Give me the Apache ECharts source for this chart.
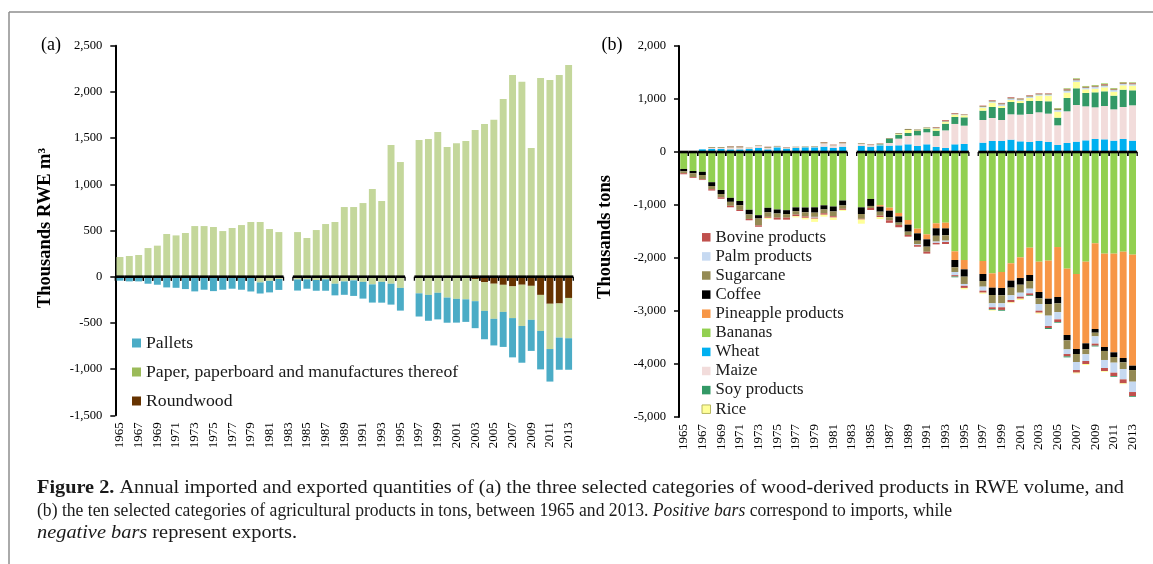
<!DOCTYPE html>
<html>
<head>
<meta charset="utf-8">
<script src="https://cdn.jsdelivr.net/npm/echarts@6/dist/echarts.min.js"></script>
<style>
  html, body { margin: 0; padding: 0; background: #fff; }
  #chart { width: 1153px; height: 564px; }
</style>
</head>
<body>
<div id="chart"></div>
<script>
// Years on both category axes (1983 and 1996 have no data)
const years = ['1965','1966','1967','1968','1969','1970','1971','1972','1973','1974','1975','1976','1977','1978','1979','1980','1981','1982','1983','1984','1985','1986','1987','1988','1989','1990','1991','1992','1993','1994','1995','1996','1997','1998','1999','2000','2001','2002','2003','2004','2005','2006','2007','2008','2009','2010','2011','2012','2013'];

// ---- (a) wood-derived products, thousands RWE m3 (imports > 0, exports < 0)
const paperImp = [213,224,235,310,336,462,447,473,548,548,538,494,527,559,592,592,516,483, null, 483,419,505,570,592,754,754,797,949,819,1425,1241, null, 1479,1490,1566,1404,1443,1468,1588,1652,1699,1923,2183,2111,1393,2150,2129,2183,2291];
const roundwoodExp = [0,0,0,0,0,0,0,0,0,0,0,0,0,0,0,0,0,0, null, 0,0,0,0,0,0,0,0,0,0,0,0, null, 0,0,0,0,0,-5,-25,-60,-76,-88,-105,-87,-99,-197,-293,-290,-230];
const paperExp = [0,0,0,0,0,0,0,0,0,0,0,0,0,0,-8,-62,-45,-25, null, -30,-29,-36,-29,-76,-51,-40,-56,-83,-56,-76,-121, null, -180,-197,-174,-226,-240,-240,-240,-310,-380,-293,-343,-446,-368,-390,-490,-369,-436];
const palletsExp = [-43,-51,-51,-76,-87,-116,-120,-134,-159,-141,-156,-141,-130,-141,-152,-120,-125,-118, null, -120,-101,-116,-123,-126,-145,-168,-181,-197,-225,-226,-246, null, -251,-280,-288,-272,-257,-244,-292,-307,-288,-379,-425,-398,-336,-416,-352,-348,-341];

// ---- (b) agricultural products, thousands tons: imports
const wheatImp = [0,0,50,57,57,50,50,57,75,50,88,63,75,88,88,100,75,100, null, 113,100,126,120,126,145,113,145,94,75,145,151, null, 176,208,208,233,201,189,208,189,132,170,195,220,245,239,214,245,214];
const maizeImp = [0,0,0,20,20,35,35,15,40,30,15,10,15,5,15,63,50,63, null, 38,30,15,50,126,157,201,226,207,333,384,346, null, 428,434,396,478,503,528,541,535,371,598,692,642,598,629,591,604,667];
const soyImp = [0,0,0,0,0,0,0,0,0,0,0,0,0,0,0,0,0,0, null, 0,0,10,82,75,57,82,69,101,126,132,157, null, 176,208,226,233,220,245,214,233,145,252,315,252,283,277,258,327,283];
const riceImp = [0,0,0,0,0,0,0,0,0,0,0,0,0,0,0,0,0,0, null, 0,0,0,0,15,57,10,10,38,31,44,38, null, 57,82,38,38,44,57,101,107,113,101,120,69,69,75,75,82,88];
const palmImp = [0,0,0,0,0,0,0,0,0,0,0,0,0,0,0,0,0,0, null, 0,0,0,0,0,0,0,0,8,10,8,5, null, 15,20,30,25,20,25,20,20,30,35,30,25,30,30,30,25,25];
const sugarImp = [0,0,0,15,15,20,20,10,10,15,12,10,10,10,10,20,10,20, null, 13,10,8,12,15,19,19,13,15,15,13,10, null, 15,15,20,15,20,17,15,15,20,25,20,15,15,20,15,15,15];
const bovineImp = [0,0,0,0,0,5,5,0,0,5,0,5,0,0,0,5,5,5, null, 0,5,4,0,0,0,0,0,8,13,10,4, null, 8,10,8,12,5,10,8,8,9,12,9,11,12,12,12,13,13];
const bananaImp = [0,0,0,0,0,0,0,0,0,0,0,0,0,0,0,0,0,0, null, 0,0,0,0,0,0,0,0,0,0,0,0, null, 0,0,0,0,0,0,0,0,10,10,10,12,12,13,12,10,10];

// ---- (b) agricultural products, thousands tons: exports
const bananaExp = [-320,-358,-374,-570,-717,-865,-925,-1090,-1192,-1053,-1085,-1098,-1045,-1047,-1044,-1006,-1028,-915, null, -1044,-886,-1003,-1050,-1150,-1283,-1447,-1554,-1346,-1334,-1874,-2038, null, -2057,-2290,-2264,-2100,-1988,-1805,-2069,-2050,-1793,-2201,-2302,-2069,-1723,-1918,-1918,-1881,-1937];
const pineExp = [0,0,0,0,0,0,0,0,0,0,0,0,0,0,0,0,0,0, null, 0,0,-28,-57,-66,-88,-88,-94,-94,-107,-164,-176, null, -245,-270,-302,-327,-390,-516,-572,-717,-943,-1252,-1415,-1541,-1617,-1761,-1862,-2006,-2095];
const coffeeExp = [-45,-44,-60,-72,-75,-75,-78,-88,-63,-85,-75,-75,-72,-90,-100,-78,-94,-94, null, -126,-132,-95,-122,-116,-132,-138,-138,-140,-132,-138,-138, null, -132,-138,-138,-132,-126,-113,-120,-101,-120,-101,-94,-113,-69,-75,-88,-82,-82];
const sugarExp = [-35,-70,-82,-60,-65,-75,-90,-85,-130,-85,-80,-66,-65,-80,-80,-72,-90,-63, null, -90,-38,-75,-60,-44,-63,-69,-96,-110,-100,-88,-138, null, -107,-157,-151,-145,-151,-145,-107,-220,-164,-170,-151,-94,-69,-170,-107,-126,-220];
const palmExp = [0,0,0,0,0,0,0,0,0,0,0,0,0,0,-15,0,0,0, null, 0,0,0,0,0,0,-15,0,-25,-25,-60,-35, null, -75,-75,-75,-88,-75,-88,-126,-195,-138,-88,-151,-126,-138,-151,-189,-195,-195];
const bovineExp = [-20,-15,-13,-25,-25,-28,-20,-25,-25,-19,-35,-38,-30,-25,-20,-28,-25,-20, null, -15,-38,-28,-47,-44,-31,-30,-35,-28,-38,-25,-40, null, -38,-38,-50,-44,-38,-38,-38,-38,-50,-44,-50,-57,-38,-57,-63,-75,-75];
const soyExp = [0,0,0,0,0,0,0,0,0,0,0,0,0,0,0,0,0,0, null, 0,0,0,0,0,0,0,0,0,0,-15,0, null, 0,-12,-15,0,0,-12,0,-19,-13,-19,0,0,-15,0,-15,0,-15];
const riceExp = [0,0,0,0,0,0,0,0,0,-19,0,0,-22,-30,-60,-35,-45,-18, null, -78,0,-35,0,0,0,0,0,0,0,0,-25, null, -19,-13,0,-15,-25,0,-19,0,0,0,-15,-19,0,-15,0,-15,0];

// Axis ranges and legend order
const yTicksA = { min: -1500, max: 2500, interval: 500 };
const yTicksB = { min: -5000, max: 2000, interval: 1000 };
const woodNames = ['Pallets', 'Paper, paperboard and manufactures thereof', 'Roundwood'];
const agriNames = ['Bovine products', 'Palm products', 'Sugarcane', 'Coffee', 'Pineapple products', 'Bananas', 'Wheat', 'Maize', 'Soy products', 'Rice'];

const SERIF = '"Liberation Serif", "Times New Roman", serif';
const COL = {
  'Pallets': '#4BACC6',
  'Paper, paperboard and manufactures thereof': '#C4D79B',
  'Roundwood': '#663300',
  'Bovine products': '#C0504D',
  'Palm products': '#C6D9F1',
  'Sugarcane': '#948A54',
  'Coffee': '#000000',
  'Pineapple products': '#F79646',
  'Bananas': '#92D050',
  'Wheat': '#00B0F0',
  'Maize': '#F2DCDB',
  'Soy products': '#339966',
  'Rice': '#FFFF99'
};

function bar(name, data, gi) {
  return {
    type: 'bar', name: name, data: data, stack: 'total' + gi,
    xAxisIndex: gi, yAxisIndex: gi, barWidth: '74%',
    itemStyle: { color: COL[name] }, animation: false
  };
}

// zero line drawn per category so that empty years leave a gap, with ticks on band edges
function zeroLine(gi, ref) {
  return {
    type: 'custom', xAxisIndex: gi, yAxisIndex: gi, silent: true, z: 10,
    data: years.map((y, i) => [i, ref[i] == null ? 0 : 1]),
    renderItem(params, api) {
      if (!api.value(1)) return null;
      const c = api.coord([api.value(0), 0]);
      const w = api.size([1, 0])[0];
      const x0 = c[0] - w / 2, x1 = c[0] + w / 2, y = c[1];
      return {
        type: 'group', children: [
          { type: 'line', shape: { x1: x0, y1: y, x2: x1, y2: y }, style: { stroke: '#000', lineWidth: 2.6 } },
          { type: 'line', shape: { x1: x0, y1: y, x2: x0, y2: y + 4 }, style: { stroke: '#000', lineWidth: 1.3 } },
          { type: 'line', shape: { x1: x1, y1: y, x2: x1, y2: y + 4 }, style: { stroke: '#000', lineWidth: 1.3 } }
        ]
      };
    }
  };
}

function xAxis(gi) {
  return {
    type: 'category', gridIndex: gi, data: years, position: 'bottom',
    axisLine: { show: false, onZero: false }, axisTick: { show: false },
    axisLabel: { interval: 1, rotate: 90, margin: 7, fontFamily: SERIF, fontSize: 13, color: '#000' }
  };
}

function yAxis(gi, t) {
  return {
    type: 'value', gridIndex: gi, min: t.min, max: t.max, interval: t.interval,
    axisLine: { show: true, onZero: false, lineStyle: { color: '#000', width: 2 } },
    axisTick: { show: true, length: 5, lineStyle: { color: '#000', width: 1.5 } },
    splitLine: { show: false },
    axisLabel: { margin: 13, fontFamily: SERIF, fontSize: 12.6, color: '#000',
      formatter: v => v.toLocaleString('en-US') }
  };
}

const series = [
  bar('Paper, paperboard and manufactures thereof', paperImp, 0),
  bar('Roundwood', roundwoodExp, 0),
  bar('Paper, paperboard and manufactures thereof', paperExp, 0),
  bar('Pallets', palletsExp, 0),
  zeroLine(0, paperImp),

  bar('Wheat', wheatImp, 1),
  bar('Maize', maizeImp, 1),
  bar('Soy products', soyImp, 1),
  bar('Rice', riceImp, 1),
  bar('Palm products', palmImp, 1),
  bar('Sugarcane', sugarImp, 1),
  bar('Bovine products', bovineImp, 1),
  bar('Bananas', bananaImp, 1),
  bar('Bananas', bananaExp, 1),
  bar('Pineapple products', pineExp, 1),
  bar('Coffee', coffeeExp, 1),
  bar('Sugarcane', sugarExp, 1),
  bar('Palm products', palmExp, 1),
  bar('Bovine products', bovineExp, 1),
  bar('Soy products', soyExp, 1),
  bar('Rice', riceExp, 1),
  zeroLine(1, wheatImp)
];

// caption: condensed serif, each line fitted to its measured width in the text block
const capFont = 18;
const ctx = document.createElement('canvas').getContext('2d');
function textWidth(parts) {
  let w = 0;
  parts.forEach(p => { ctx.font = p[1] + ' ' + capFont + 'px "Liberation Serif"'; w += ctx.measureText(p[0]).width; });
  return w;
}
const capLines = [
  { parts: [['Figure 2.', 'b'], [' Annual imported and exported quantities of (a) the three selected categories of wood-derived products in RWE volume, and', 'n']], y: 488, width: 1087 },
  { parts: [['(b) the ten selected categories of agricultural products in tons, between 1965 and 2013. ', 'n'], ['Positive bars', 'i'], [' correspond to imports, while', 'n']], y: 511, width: 915 },
  { parts: [['negative bars', 'i'], [' represent exports.', 'n']], y: 533, width: 260 }
];
const fontOf = { b: 'bold', i: 'italic', n: 'normal' };
const capRich = {
  b: { fontWeight: 'bold', fontFamily: SERIF, fontSize: capFont, fill: '#1a1a1a' },
  i: { fontStyle: 'italic', fontFamily: SERIF, fontSize: capFont, fill: '#1a1a1a' },
  n: { fontFamily: SERIF, fontSize: capFont, fill: '#1a1a1a' }
};
function capLine(line) {
  const natural = textWidth(line.parts.map(p => [p[0], fontOf[p[1]]]));
  return {
    type: 'text', x: 37, y: line.y, scaleX: line.width / natural, originX: 0, silent: true,
    style: {
      text: line.parts.map(p => '{' + p[1] + '|' + p[0] + '}').join(''),
      rich: capRich, fontFamily: SERIF, fontSize: capFont, fill: '#1a1a1a', verticalAlign: 'middle'
    }
  };
}

const option = {
  animation: false,
  backgroundColor: '#fff',
  grid: [
    { left: 115.3, top: 45.7, width: 458, height: 369.6 },
    { left: 679, top: 46, width: 458.2, height: 371 }
  ],
  xAxis: [xAxis(0), xAxis(1)],
  yAxis: [yAxis(0, yTicksA), yAxis(1, yTicksB)],
  legend: [
    {
      orient: 'vertical', left: 127, top: 329, itemWidth: 9, itemHeight: 9, itemGap: 11,
      icon: 'rect', selectedMode: false,
      textStyle: { fontFamily: SERIF, fontSize: 17.7, lineHeight: 18, color: '#1a1a1a' },
      data: woodNames.map(n => n.startsWith('Paper') ? { name: n, itemStyle: { color: '#9BBB59' } } : { name: n })
    },
    {
      orient: 'vertical', left: 696.5, top: 223.8, itemWidth: 8.5, itemHeight: 8.5, itemGap: 2.1,
      icon: 'rect', selectedMode: false,
      textStyle: { fontFamily: SERIF, fontSize: 16.8, lineHeight: 17, color: '#1a1a1a' },
      data: agriNames.map(n => n === 'Rice' ? { name: n, itemStyle: { color: '#FFFF99', borderColor: '#B8B860', borderWidth: 1 } } : { name: n })
    }
  ],
  series: series,
  graphic: [
    { type: 'line', shape: { x1: 9, y1: 12, x2: 1153, y2: 12 }, style: { stroke: '#8e8e8e', lineWidth: 1.5 }, silent: true },
    { type: 'line', shape: { x1: 9, y1: 12, x2: 9, y2: 564 }, style: { stroke: '#8e8e8e', lineWidth: 1.5 }, silent: true },
    { type: 'text', x: 51, y: 45, silent: true,
      style: { text: '(a)', fontFamily: SERIF, fontSize: 18, fill: '#000', align: 'center', verticalAlign: 'middle' } },
    { type: 'text', x: 612, y: 45, silent: true,
      style: { text: '(b)', fontFamily: SERIF, fontSize: 18, fill: '#000', align: 'center', verticalAlign: 'middle' } },
    { type: 'text', x: 45, y: 228, rotation: Math.PI / 2, silent: true,
      style: { text: 'Thousands RWE m³', fontFamily: SERIF, fontWeight: 'bold', fontSize: 18.5, fill: '#000', align: 'center', verticalAlign: 'middle' } },
    { type: 'text', x: 605, y: 237, rotation: Math.PI / 2, silent: true,
      style: { text: 'Thousands tons', fontFamily: SERIF, fontWeight: 'bold', fontSize: 18.5, fill: '#000', align: 'center', verticalAlign: 'middle' } }
  ].concat(capLines.map(capLine))
};

const chart = echarts.init(document.getElementById('chart'), null, { renderer: 'canvas' });
chart.setOption(option);
</script>
</body>
</html>
